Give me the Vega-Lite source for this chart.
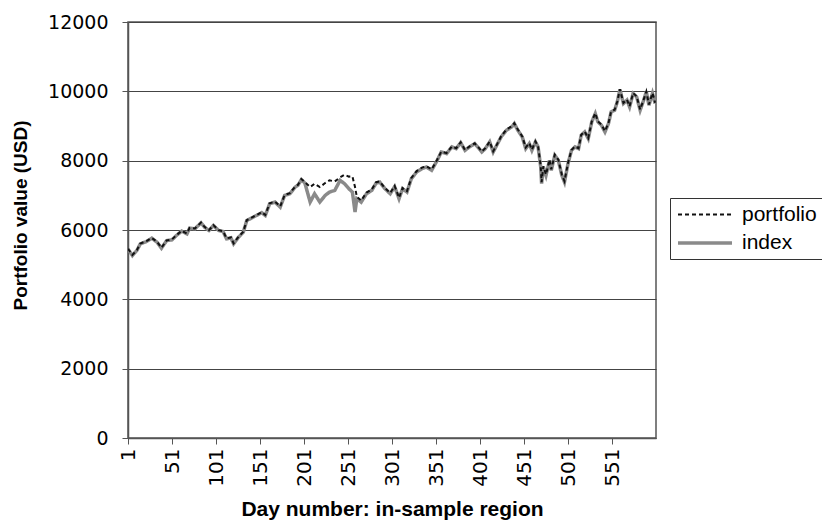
{
  "$schema": "https://vega.github.io/schema/vega-lite/v6.json",
  "width": 528,
  "height": 416,
  "autosize": {"type": "none"},
  "padding": {"left": 128, "top": 22, "right": 166, "bottom": 83},
  "background": "white",
  "config": {
    "font": "Liberation Sans",
    "view": {"stroke": "#555", "strokeWidth": 1.5},
    "axis": {"labelColor": "#000", "titleColor": "#000", "domainColor": "#555", "tickColor": "#555", "domainWidth": 1.5, "labelFont": "DejaVu Sans", "labelFontSize": 19, "titleFont": "Liberation Sans", "titleFontSize": 20, "titleFontWeight": "bold"}
  },
  "data": {
    "values": [
      {"day": 1, "index": 5450, "portfolio": 5460},
      {"day": 6, "index": 5263, "portfolio": 5280},
      {"day": 11, "index": 5407, "portfolio": 5420},
      {"day": 15, "index": 5600, "portfolio": 5610},
      {"day": 22, "index": 5667, "portfolio": 5680},
      {"day": 28, "index": 5764, "portfolio": 5770},
      {"day": 34, "index": 5648, "portfolio": 5660},
      {"day": 39, "index": 5475, "portfolio": 5490},
      {"day": 45, "index": 5696, "portfolio": 5700},
      {"day": 51, "index": 5716, "portfolio": 5730},
      {"day": 56, "index": 5841, "portfolio": 5850},
      {"day": 62, "index": 5966, "portfolio": 5975},
      {"day": 68, "index": 5889, "portfolio": 5900},
      {"day": 71, "index": 6053, "portfolio": 6060},
      {"day": 77, "index": 6034, "portfolio": 6045},
      {"day": 84, "index": 6207, "portfolio": 6215},
      {"day": 88, "index": 6082, "portfolio": 6090},
      {"day": 93, "index": 5986, "portfolio": 5995},
      {"day": 98, "index": 6130, "portfolio": 6140},
      {"day": 104, "index": 5986, "portfolio": 5995},
      {"day": 109, "index": 5957, "portfolio": 5965},
      {"day": 113, "index": 5745, "portfolio": 5760},
      {"day": 118, "index": 5774, "portfolio": 5785},
      {"day": 121, "index": 5600, "portfolio": 5615},
      {"day": 126, "index": 5774, "portfolio": 5785},
      {"day": 132, "index": 5937, "portfolio": 5950},
      {"day": 136, "index": 6275, "portfolio": 6285},
      {"day": 142, "index": 6352, "portfolio": 6365},
      {"day": 147, "index": 6420, "portfolio": 6430},
      {"day": 153, "index": 6500, "portfolio": 6515},
      {"day": 157, "index": 6420, "portfolio": 6435},
      {"day": 162, "index": 6757, "portfolio": 6770},
      {"day": 168, "index": 6805, "portfolio": 6820},
      {"day": 174, "index": 6660, "portfolio": 6680},
      {"day": 179, "index": 6998, "portfolio": 7010},
      {"day": 185, "index": 7046, "portfolio": 7065},
      {"day": 191, "index": 7238, "portfolio": 7255},
      {"day": 194, "index": 7287, "portfolio": 7300},
      {"day": 198, "index": 7451, "portfolio": 7470},
      {"day": 202, "index": 7354, "portfolio": 7380},
      {"day": 208, "index": 6805, "portfolio": 7238},
      {"day": 213, "index": 7046, "portfolio": 7336},
      {"day": 219, "index": 6805, "portfolio": 7238},
      {"day": 225, "index": 6998, "portfolio": 7354},
      {"day": 230, "index": 7094, "portfolio": 7432},
      {"day": 236, "index": 7142, "portfolio": 7400},
      {"day": 242, "index": 7432, "portfolio": 7520},
      {"day": 247, "index": 7336, "portfolio": 7596},
      {"day": 252, "index": 7191, "portfolio": 7540},
      {"day": 256, "index": 7094, "portfolio": 7547},
      {"day": 259, "index": 6516, "portfolio": 7238},
      {"day": 261, "index": 6902, "portfolio": 6960},
      {"day": 266, "index": 6805, "portfolio": 6850},
      {"day": 272, "index": 7046, "portfolio": 7080},
      {"day": 278, "index": 7142, "portfolio": 7170},
      {"day": 283, "index": 7354, "portfolio": 7380},
      {"day": 287, "index": 7383, "portfolio": 7400},
      {"day": 293, "index": 7191, "portfolio": 7210},
      {"day": 299, "index": 7046, "portfolio": 7070},
      {"day": 304, "index": 7250, "portfolio": 7270},
      {"day": 309, "index": 6902, "portfolio": 6930},
      {"day": 313, "index": 7191, "portfolio": 7210},
      {"day": 318, "index": 7094, "portfolio": 7120},
      {"day": 323, "index": 7480, "portfolio": 7500},
      {"day": 329, "index": 7673, "portfolio": 7700},
      {"day": 335, "index": 7769, "portfolio": 7800},
      {"day": 340, "index": 7817, "portfolio": 7840},
      {"day": 346, "index": 7721, "portfolio": 7750},
      {"day": 352, "index": 7990, "portfolio": 8010},
      {"day": 357, "index": 8250, "portfolio": 8260},
      {"day": 363, "index": 8203, "portfolio": 8220},
      {"day": 369, "index": 8396, "portfolio": 8410},
      {"day": 374, "index": 8347, "portfolio": 8360},
      {"day": 379, "index": 8520, "portfolio": 8530},
      {"day": 384, "index": 8299, "portfolio": 8310},
      {"day": 389, "index": 8396, "portfolio": 8410},
      {"day": 395, "index": 8492, "portfolio": 8500},
      {"day": 400, "index": 8347, "portfolio": 8360},
      {"day": 403, "index": 8250, "portfolio": 8265},
      {"day": 407, "index": 8347, "portfolio": 8360},
      {"day": 412, "index": 8540, "portfolio": 8550},
      {"day": 416, "index": 8250, "portfolio": 8270},
      {"day": 420, "index": 8444, "portfolio": 8455},
      {"day": 425, "index": 8684, "portfolio": 8700},
      {"day": 431, "index": 8877, "portfolio": 8900},
      {"day": 437, "index": 8973, "portfolio": 8990},
      {"day": 440, "index": 9070, "portfolio": 9080},
      {"day": 444, "index": 8877, "portfolio": 8900},
      {"day": 449, "index": 8684, "portfolio": 8700},
      {"day": 453, "index": 8347, "portfolio": 8380},
      {"day": 457, "index": 8492, "portfolio": 8510},
      {"day": 460, "index": 8299, "portfolio": 8320},
      {"day": 464, "index": 8540, "portfolio": 8555},
      {"day": 467, "index": 8396, "portfolio": 8410},
      {"day": 470, "index": 7817, "portfolio": 7850},
      {"day": 471, "index": 7336, "portfolio": 7380},
      {"day": 473, "index": 7817, "portfolio": 7840},
      {"day": 476, "index": 7576, "portfolio": 7600},
      {"day": 480, "index": 8010, "portfolio": 8030},
      {"day": 482, "index": 7721, "portfolio": 7750},
      {"day": 486, "index": 8154, "portfolio": 8170},
      {"day": 490, "index": 8010, "portfolio": 8030},
      {"day": 494, "index": 7576, "portfolio": 7600},
      {"day": 497, "index": 7383, "portfolio": 7410},
      {"day": 501, "index": 7913, "portfolio": 7930},
      {"day": 505, "index": 8299, "portfolio": 8310},
      {"day": 509, "index": 8396, "portfolio": 8410},
      {"day": 513, "index": 8347, "portfolio": 8360},
      {"day": 516, "index": 8733, "portfolio": 8745},
      {"day": 520, "index": 8829, "portfolio": 8840},
      {"day": 524, "index": 8637, "portfolio": 8650},
      {"day": 528, "index": 9118, "portfolio": 9130},
      {"day": 532, "index": 9360, "portfolio": 9370},
      {"day": 535, "index": 9118, "portfolio": 9130},
      {"day": 539, "index": 9022, "portfolio": 9040},
      {"day": 543, "index": 8829, "portfolio": 8850},
      {"day": 547, "index": 9070, "portfolio": 9085},
      {"day": 550, "index": 9407, "portfolio": 9420},
      {"day": 554, "index": 9455, "portfolio": 9470},
      {"day": 557, "index": 9696, "portfolio": 9705},
      {"day": 560, "index": 10054, "portfolio": 10060},
      {"day": 564, "index": 9649, "portfolio": 9665},
      {"day": 568, "index": 9745, "portfolio": 9760},
      {"day": 571, "index": 9551, "portfolio": 9570},
      {"day": 575, "index": 9938, "portfolio": 9950},
      {"day": 579, "index": 9841, "portfolio": 9855},
      {"day": 583, "index": 9455, "portfolio": 9475},
      {"day": 587, "index": 9745, "portfolio": 9760},
      {"day": 590, "index": 9985, "portfolio": 9995},
      {"day": 593, "index": 9600, "portfolio": 9620},
      {"day": 597, "index": 9938, "portfolio": 9950},
      {"day": 600, "index": 9649, "portfolio": 9670}
    ]
  },
  "transform": [{"fold": ["portfolio", "index"], "as": ["series", "value"]}],
  "encoding": {
    "x": {
      "field": "day",
      "type": "quantitative",
      "scale": {"domain": [1, 601], "nice": false, "zero": false},
      "axis": {
        "values": [1, 51, 101, 151, 201, 251, 301, 351, 401, 451, 501, 551],
        "format": "d",
        "labelAngle": 270,
        "labelFontSize": 20,
        "labelPadding": 4,
        "tickSize": 6,
        "grid": false,
        "title": "Day number: in-sample region",
        "titleFontSize": 21,
        "titlePadding": 12
      }
    },
    "y": {
      "field": "value",
      "type": "quantitative",
      "scale": {"domain": [0, 12000], "nice": false},
      "axis": {
        "values": [0, 2000, 4000, 6000, 8000, 10000, 12000],
        "format": "d",
        "labelPadding": 14,
        "tickSize": 6,
        "grid": true,
        "gridColor": "#444",
        "gridWidth": 1,
        "title": "Portfolio value (USD)",
        "titleFontSize": 19,
        "titleY": 193,
        "titlePadding": 17
      }
    },
    "color": {
      "field": "series",
      "type": "nominal",
      "scale": {"domain": ["portfolio", "index"], "range": ["#111", "#8a8a8a"]},
      "legend": {
        "orient": "none",
        "legendX": 542,
        "legendY": 176,
        "title": null,
        "strokeColor": "#333",
        "fillColor": "white",
        "padding": 6,
        "labelFont": "Liberation Sans",
        "labelFontSize": 21,
        "labelColor": "#000",
        "symbolType": "M-1,0H5",
        "symbolSize": 324,
        "symbolStrokeWidth": 2,
        "rowPadding": 7,
        "labelOffset": 44
      }
    },
    "strokeDash": {
      "field": "series",
      "type": "nominal",
      "scale": {"domain": ["portfolio", "index"], "range": [[4, 3], [1, 0]]}
    },
    "strokeWidth": {
      "field": "series",
      "type": "nominal",
      "scale": {"domain": ["portfolio", "index"], "range": [2, 3.5]},
      "legend": null
    },
    "order": {"field": "day", "type": "quantitative"}
  },
  "layer": [
    {"transform": [{"filter": "datum.series === 'index'"}], "mark": {"type": "line", "clip": true}},
    {"transform": [{"filter": "datum.series === 'portfolio'"}], "mark": {"type": "line", "clip": true}}
  ]
}
